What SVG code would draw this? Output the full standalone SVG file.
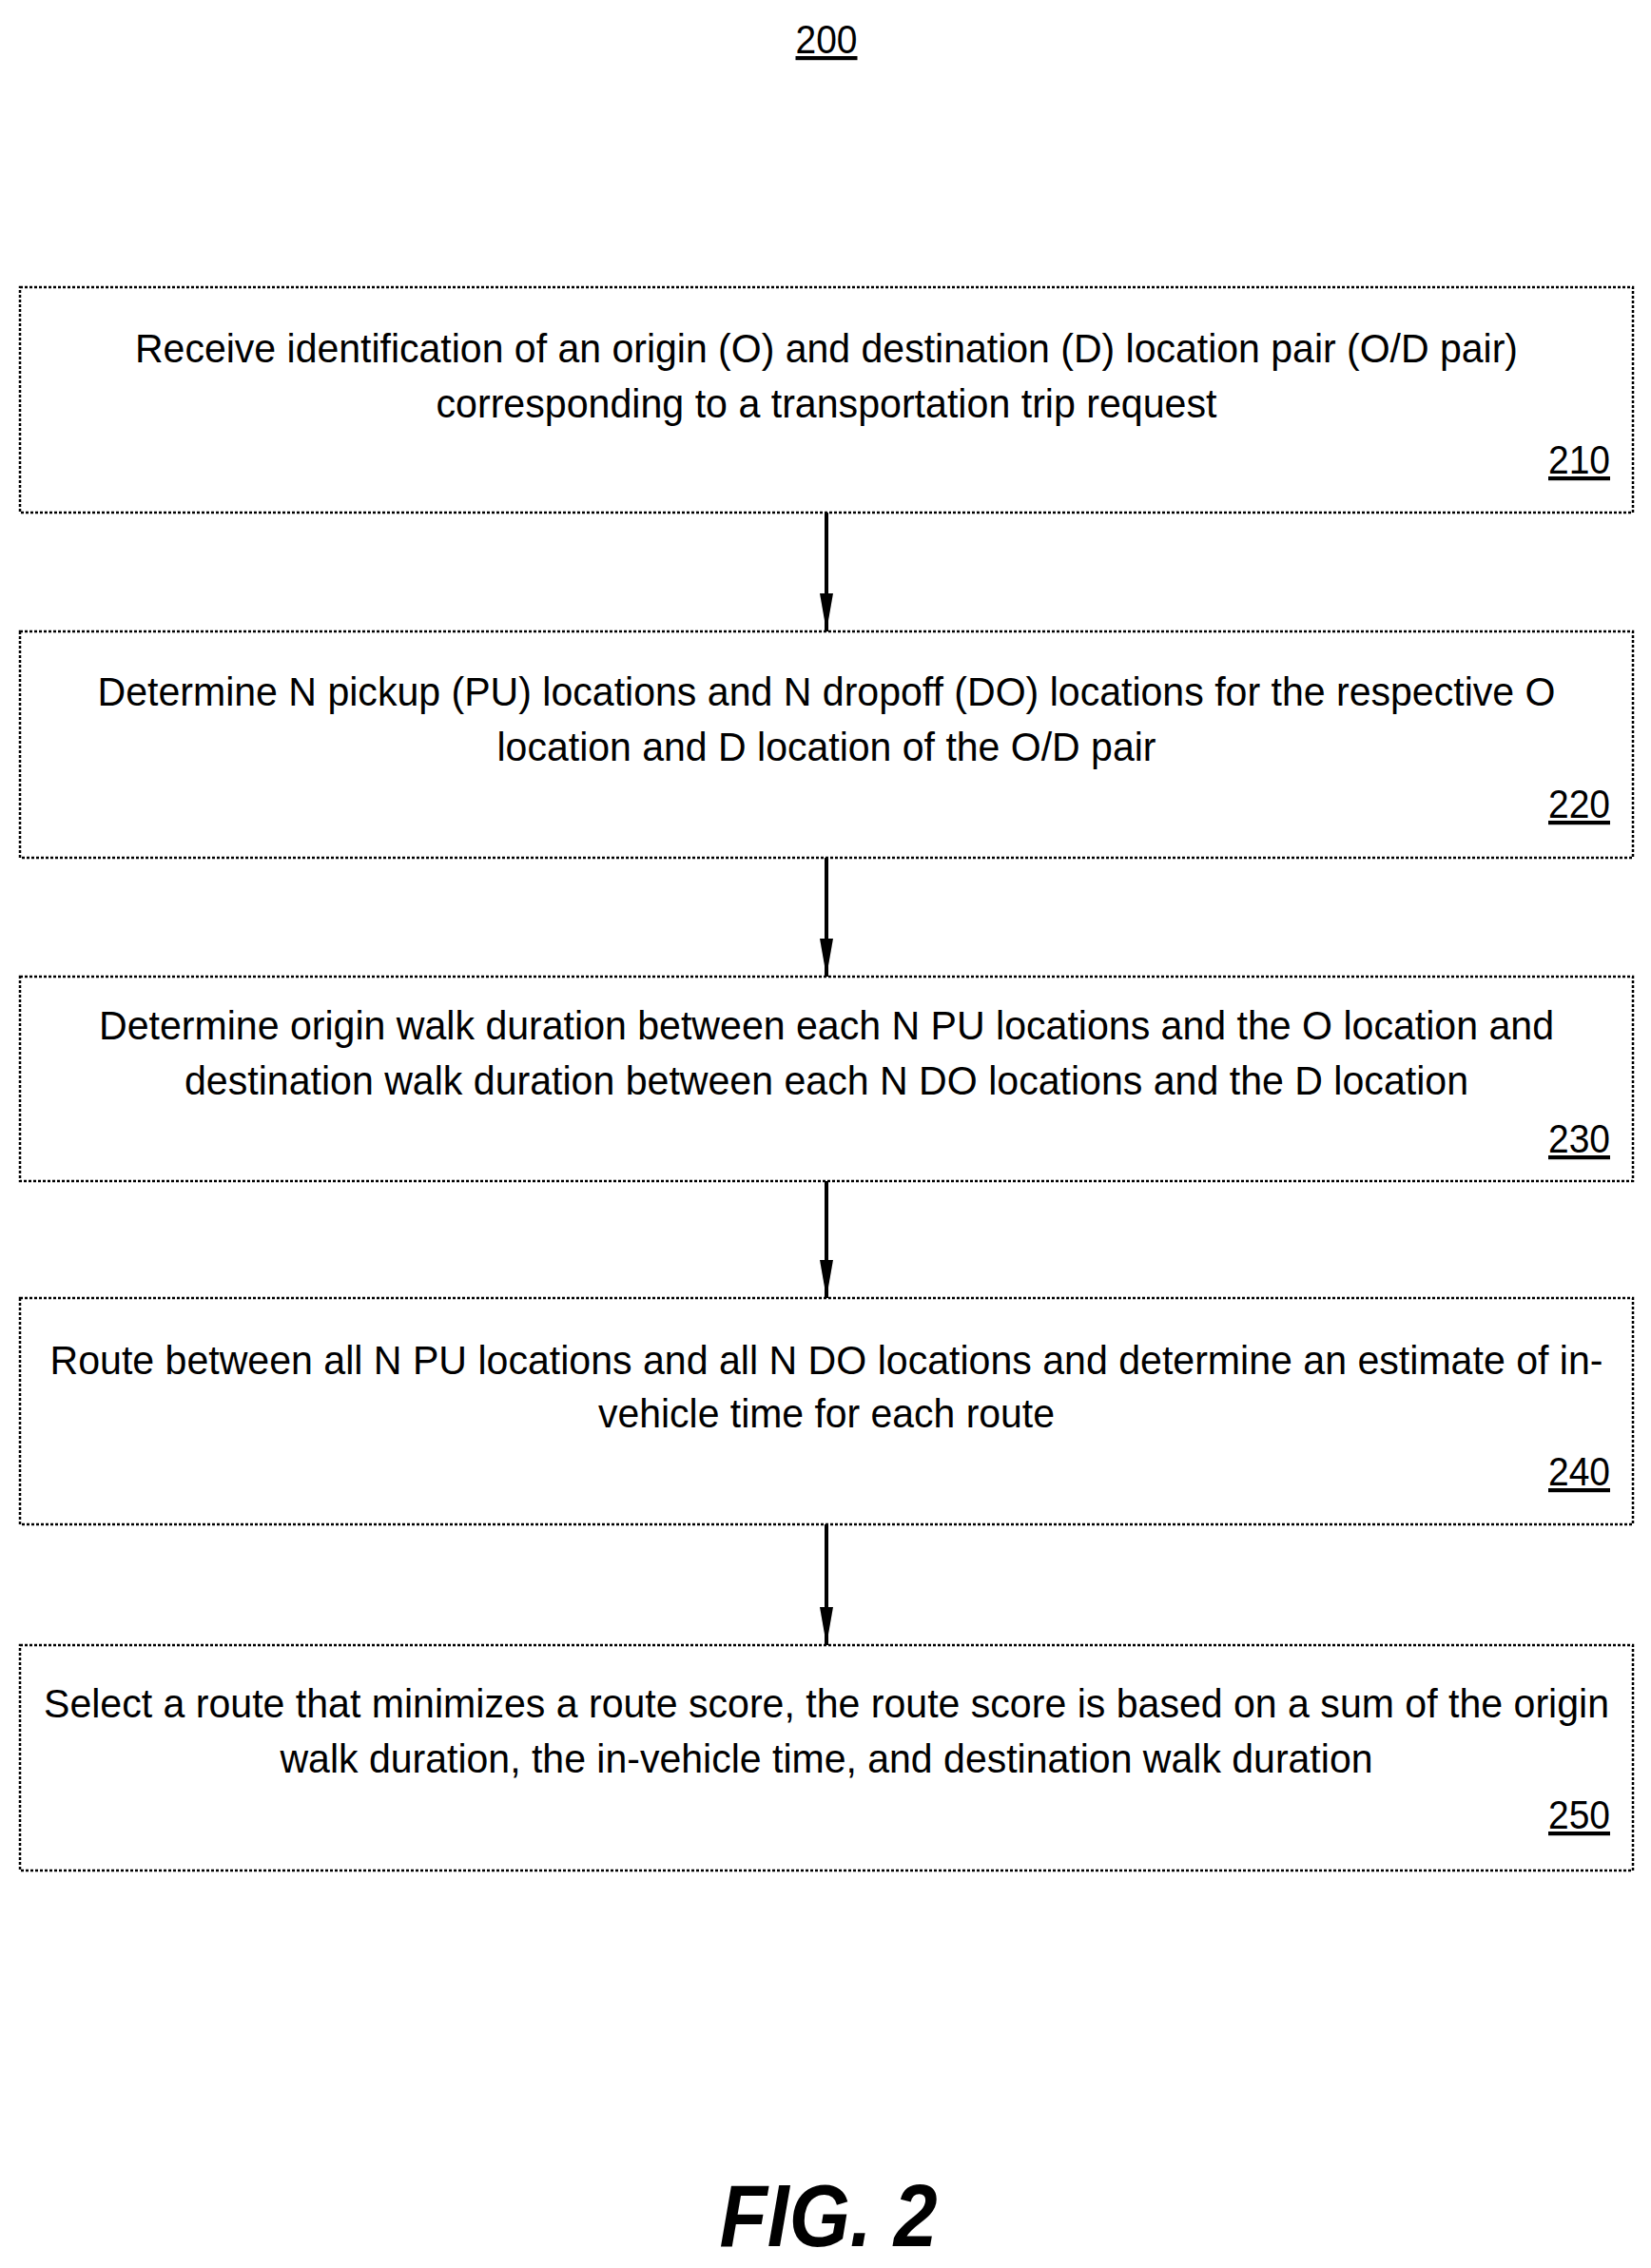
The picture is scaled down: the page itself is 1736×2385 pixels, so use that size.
<svg xmlns="http://www.w3.org/2000/svg" width="1736" height="2385" viewBox="0 0 1736 2385">
<style>
.box{fill:none;stroke:#000;stroke-width:2.5;stroke-dasharray:3 2}
.t{font-family:"Liberation Sans",Arial,sans-serif;font-size:42px;fill:#000;text-anchor:middle}
.n{font-family:"Liberation Sans",Arial,sans-serif;font-size:42px;fill:#000;text-anchor:end;text-decoration:underline}
.c{stroke:#000;stroke-width:4;fill:none;marker-end:url(#ah)}
</style>
<defs><marker id="ah" markerWidth="8" markerHeight="12" refX="8" refY="6" orient="auto" markerUnits="userSpaceOnUse" viewBox="0 0 8 12"><path d="M0,0 L8,6 L0,12 Z" fill="#000"/></marker>
<marker id="ah2" viewBox="0 0 40 20" refX="40" refY="10" markerWidth="40" markerHeight="20" orient="auto" markerUnits="userSpaceOnUse"><path d="M0,3 L40,10 L0,17 Z" fill="#000"/></marker></defs>
<text class="n" x="869" y="56" text-anchor="middle" style="text-anchor:middle" textLength="65" lengthAdjust="spacingAndGlyphs">200</text>
<g id="n210"><rect class="box" x="21" y="302" width="1696" height="237"/>
<text class="t" x="869" y="381" textLength="1454" lengthAdjust="spacingAndGlyphs">Receive identification of an origin (O) and destination (D) location pair (O/D pair)</text>
<text class="t" x="869" y="439" textLength="821" lengthAdjust="spacingAndGlyphs">corresponding to a transportation trip request</text>
<text class="n" x="1693" y="498" textLength="65" lengthAdjust="spacingAndGlyphs">210</text></g>
<g id="n220"><rect class="box" x="21" y="664" width="1696" height="238"/>
<text class="t" x="869" y="742" textLength="1533" lengthAdjust="spacingAndGlyphs">Determine N pickup (PU) locations and N dropoff (DO) locations for the respective O</text>
<text class="t" x="869" y="800" textLength="693" lengthAdjust="spacingAndGlyphs">location and D location of the O/D pair</text>
<text class="n" x="1693" y="860" textLength="65" lengthAdjust="spacingAndGlyphs">220</text></g>
<g id="n230"><rect class="box" x="21" y="1027" width="1696" height="215"/>
<text class="t" x="869" y="1093" textLength="1530" lengthAdjust="spacingAndGlyphs">Determine origin walk duration between each N PU locations and the O location and</text>
<text class="t" x="869" y="1151" textLength="1350" lengthAdjust="spacingAndGlyphs">destination walk duration between each N DO locations and the D location</text>
<text class="n" x="1693" y="1212" textLength="65" lengthAdjust="spacingAndGlyphs">230</text></g>
<g id="n240"><rect class="box" x="21" y="1365" width="1696" height="238"/>
<text class="t" x="869" y="1445" textLength="1633" lengthAdjust="spacingAndGlyphs">Route between all N PU locations and all N DO locations and determine an estimate of in-</text>
<text class="t" x="869" y="1501" textLength="480" lengthAdjust="spacingAndGlyphs">vehicle time for each route</text>
<text class="n" x="1693" y="1562" textLength="65" lengthAdjust="spacingAndGlyphs">240</text></g>
<g id="n250"><rect class="box" x="21" y="1730" width="1696" height="237"/>
<text class="t" x="869" y="1806" textLength="1646" lengthAdjust="spacingAndGlyphs">Select a route that minimizes a route score, the route score is based on a sum of the origin</text>
<text class="t" x="869" y="1864" textLength="1149" lengthAdjust="spacingAndGlyphs">walk duration, the in-vehicle time, and destination walk duration</text>
<text class="n" x="1693" y="1923" textLength="65" lengthAdjust="spacingAndGlyphs">250</text></g>
<g id="connectors" stroke="#000" stroke-width="4">
<line x1="869" y1="539" x2="869" y2="664" marker-end="url(#ah2)"/>
<line x1="869" y1="902" x2="869" y2="1027" marker-end="url(#ah2)"/>
<line x1="869" y1="1242" x2="869" y2="1365" marker-end="url(#ah2)"/>
<line x1="869" y1="1603" x2="869" y2="1730" marker-end="url(#ah2)"/>
</g>
<text x="871" y="2362" style="font-family:'Liberation Sans',Arial,sans-serif;font-size:92px;font-weight:bold;font-style:italic;text-anchor:middle" textLength="229" lengthAdjust="spacingAndGlyphs">FIG. 2</text>
</svg>
